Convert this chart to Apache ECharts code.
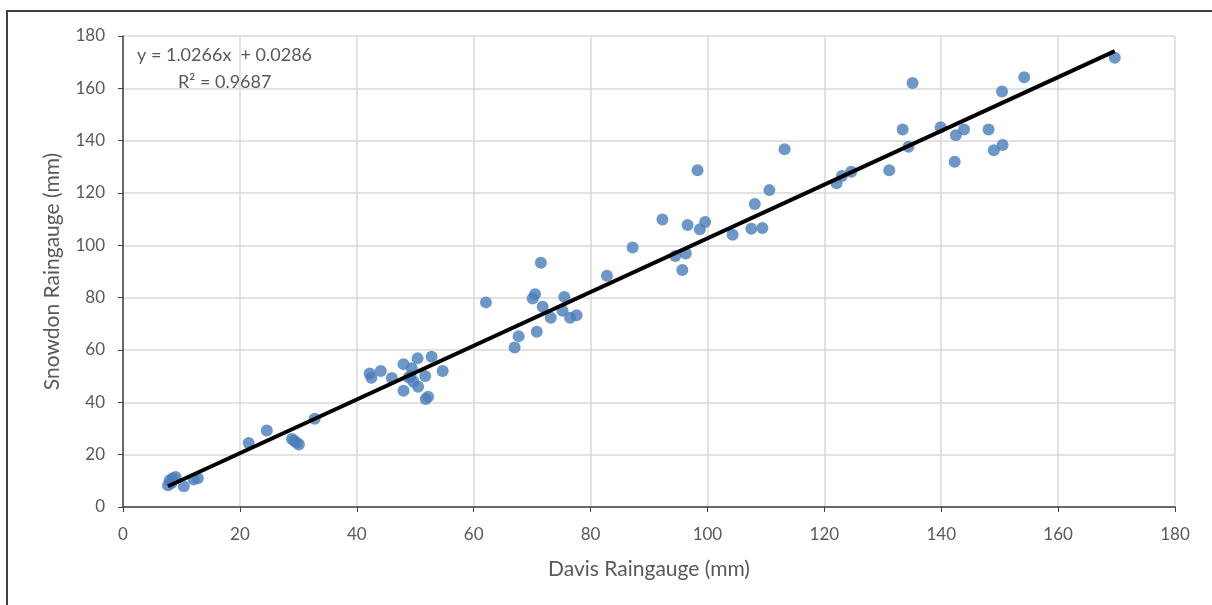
<!DOCTYPE html>
<html>
<head>
<meta charset="utf-8">
<script src="https://cdn.jsdelivr.net/npm/echarts@6/dist/echarts.min.js"></script>
<style>
html, body { margin: 0; padding: 0; background: #fff; }
#chart { width: 1212px; height: 605px; }
</style>
</head>
<body>
<div id="chart"></div>
<script>
// Davis vs Snowdon raingauge readings (mm)
var davis = [7.7, 8.0, 8.3, 8.5, 9.0, 10.4, 12.1, 12.8,
    21.5, 24.6, 28.9, 29.3, 29.7, 30.1, 32.8,
    42.2, 42.5, 44.1, 46.0, 48.0, 48.0, 49.4, 50.4, 52.8, 54.7, 49.2, 49.7, 50.5, 51.7, 51.8, 52.2, 48.9,
    62.1, 67.0, 67.7, 70.1, 70.5, 70.8, 71.5, 71.8, 73.2, 75.2, 75.5, 76.5, 77.6,
    82.8, 87.2, 92.3, 94.5, 95.7, 96.3, 96.6, 98.3, 98.7, 99.6, 104.3, 107.5, 108.1, 109.4, 110.6, 113.2,
    122.1, 123.0, 124.6, 131.1, 133.4, 134.4, 135.1, 139.9, 142.3, 142.5, 143.9, 148.1, 149.0, 150.4, 150.5, 154.2, 169.7];
var snowdon = [8.3, 10.2, 9.2, 11.0, 11.5, 7.9, 10.5, 11.0,
    24.5, 29.2, 26.0, 25.3, 24.6, 23.9, 33.7,
    51.0, 49.4, 52.0, 49.3, 54.6, 44.4, 53.0, 56.8, 57.4, 52.0, 50.0, 47.9, 46.0, 50.1, 41.3, 42.1, 49.5,
    78.2, 61.0, 65.3, 79.7, 81.3, 67.0, 93.3, 76.5, 72.3, 75.0, 80.3, 72.3, 73.3,
    88.4, 99.2, 109.9, 95.9, 90.6, 96.9, 107.8, 128.7, 106.1, 108.9, 104.0, 106.3, 115.8, 106.6, 121.1, 136.7,
    123.7, 126.5, 128.1, 128.7, 144.3, 137.7, 162.0, 145.1, 131.9, 142.1, 144.3, 144.3, 136.3, 158.8, 138.3, 164.2, 171.7];

// linear trendline (from the chart label)
var slope = 1.0266;
var intercept = 0.0286;
var trendX = [7.7, 169.7];

var points = davis.map(function (x, i) { return [x, snowdon[i]]; });
var trend = trendX.map(function (x) { return [x, slope * x + intercept]; });

var font = 'Lato, "Open Sans", sans-serif';
var gray = '#595959';

var myChart = echarts.init(document.getElementById('chart'));
var option = {
    animation: false,
    backgroundColor: '#fff',
    grid: {
        left: 123,
        right: 37,
        top: 36,
        bottom: 98
    },
    xAxis: {
        type: 'value',
        min: 0,
        max: 180,
        interval: 20,
        name: 'Davis Raingauge (mm)',
        nameLocation: 'middle',
        nameGap: 52,
        nameTextStyle: { color: gray, fontFamily: font, fontSize: 21 },
        axisLine: { lineStyle: { color: '#404040', width: 1.5 } },
        axisTick: { show: true, length: 5, lineStyle: { color: '#404040' } },
        axisLabel: { color: gray, fontFamily: font, fontSize: 17, margin: 19 },
        splitLine: { show: true, lineStyle: { color: '#d9d9d9', width: 1.5 } }
    },
    yAxis: {
        type: 'value',
        min: 0,
        max: 180,
        interval: 20,
        name: 'Snowdon Raingauge (mm)',
        nameLocation: 'middle',
        nameGap: 60,
        nameTextStyle: { color: gray, fontFamily: font, fontSize: 21 },
        axisLine: { show: true, lineStyle: { color: '#404040', width: 1.5 } },
        axisTick: { show: true, length: 5, lineStyle: { color: '#404040' } },
        axisLabel: { color: gray, fontFamily: font, fontSize: 17, margin: 18 },
        splitLine: { show: true, lineStyle: { color: '#d9d9d9', width: 1.5 } }
    },
    graphic: [
        {
            type: 'rect',
            shape: { x: 7, y: 11, width: 1300, height: 700 },
            style: { fill: 'none', stroke: '#404040', lineWidth: 2 },
            silent: true
        },
        {
            type: 'text',
            left: 137,
            top: 46,
            style: { text: 'y = 1.0266x  + 0.0286', fill: gray, font: '18px ' + font }
        },
        {
            type: 'text',
            left: 178,
            top: 73,
            style: { text: 'R² = 0.9687', fill: gray, font: '18px ' + font }
        }
    ],
    series: [
        {
            name: 'Raingauge',
            type: 'scatter',
            symbol: 'circle',
            symbolSize: 12,
            itemStyle: { color: '#4a7dbb' },
            data: points,
            z: 2
        },
        {
            name: 'Trend',
            type: 'line',
            data: trend,
            symbol: 'none',
            lineStyle: { color: '#000', width: 4 },
            z: 3
        }
    ]
};
myChart.setOption(option);
</script>
</body>
</html>
